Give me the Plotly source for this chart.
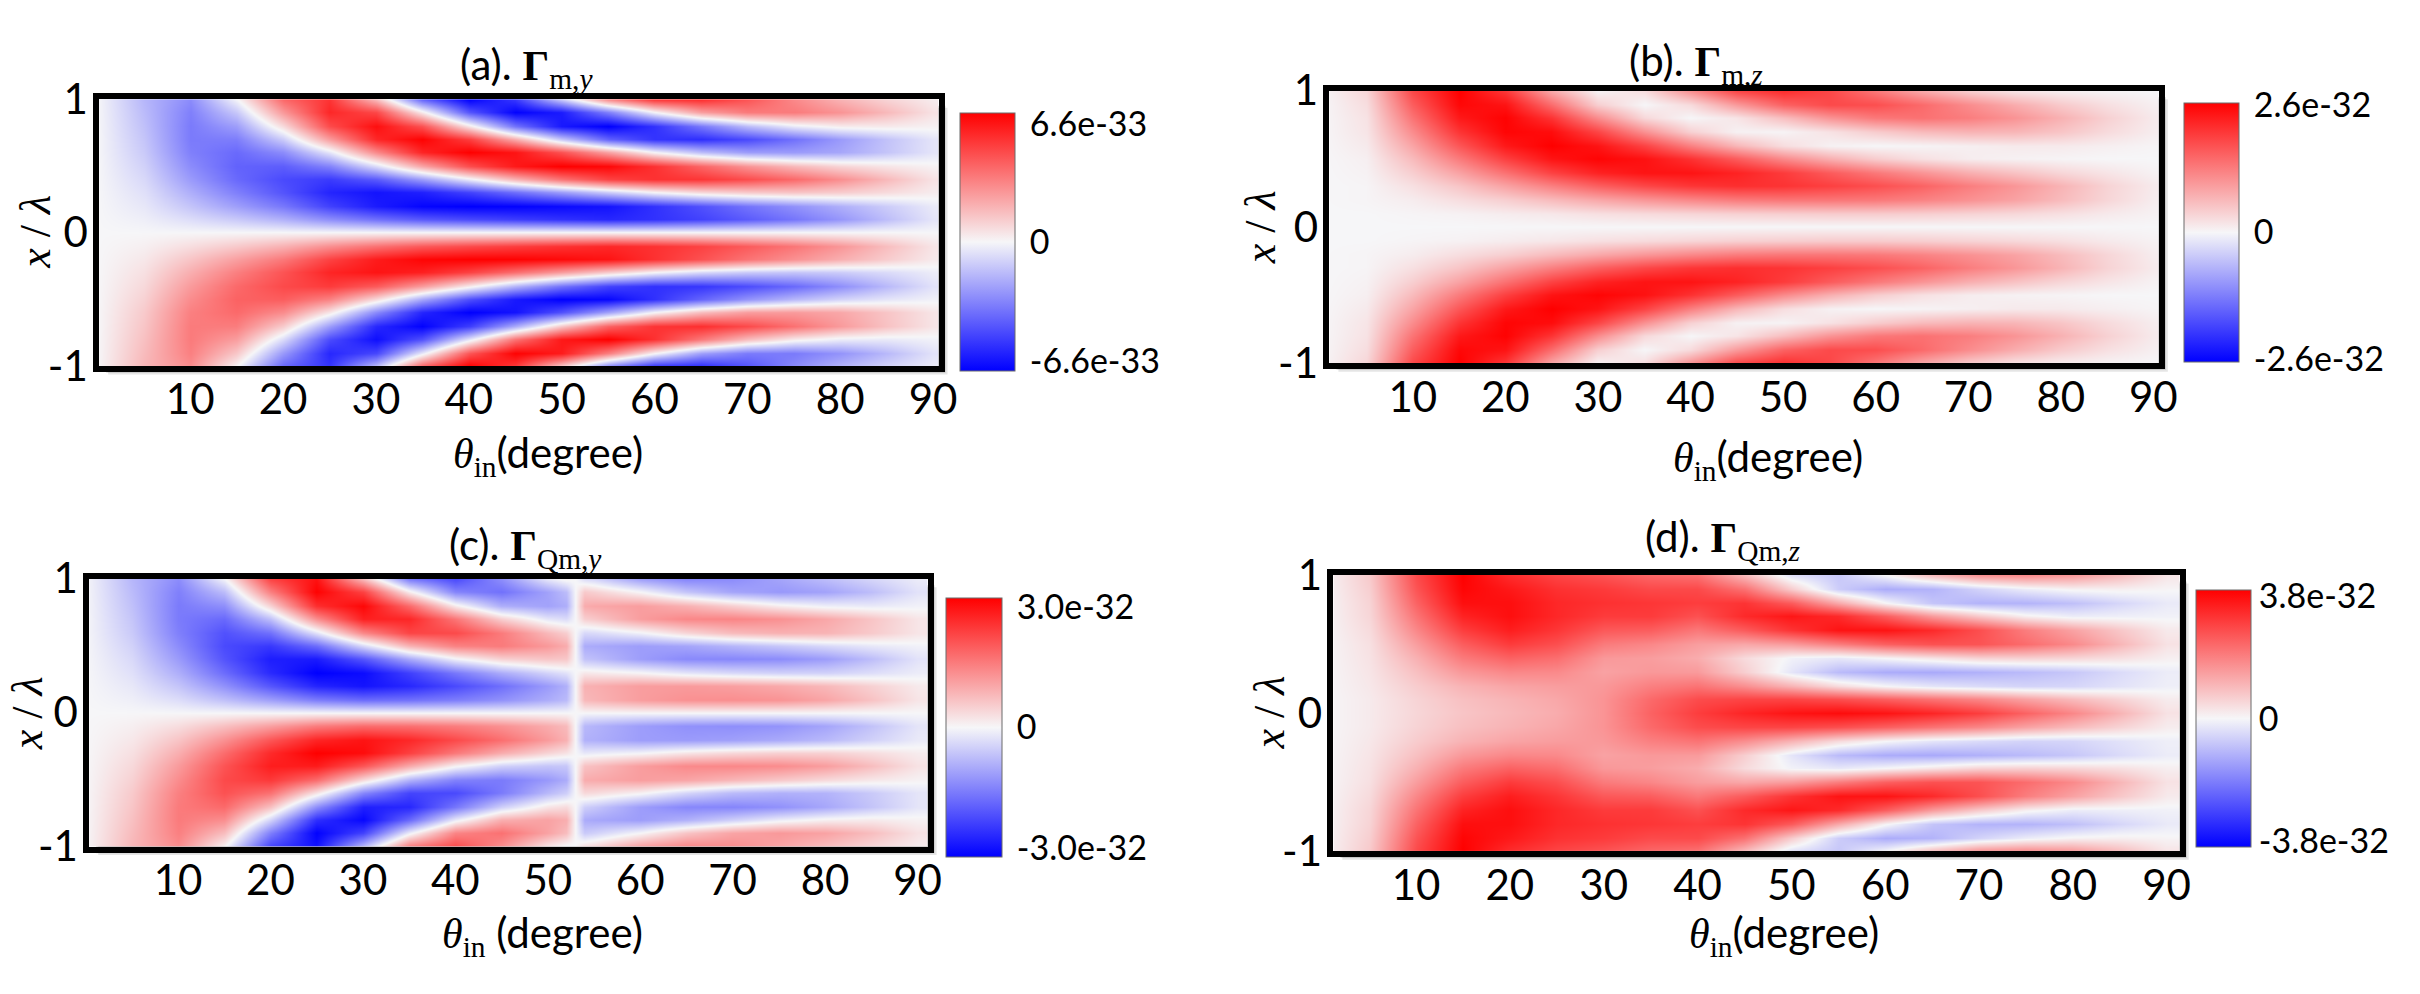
import numpy as np
import plotly.graph_objects as go

# ---------------------------
# Data
# (values are % of each colour-bar limit, rows go from x/lambda = -1 to 1)
# ---------------------------
X_LAMBDA = [-1.0, -0.9, -0.8, -0.7, -0.6, -0.5, -0.4, -0.3, -0.2, -0.1, 0.0,
            0.1, 0.2, 0.3, 0.4, 0.5, 0.6, 0.7, 0.8, 0.9, 1.0]
THETA = [0, 5, 10, 15, 20, 25, 30, 35, 40, 45, 50, 55, 60, 65, 70, 75, 80, 85, 90]
THETA_QMY = [0, 5, 10, 15, 20, 25, 30, 35, 40, 45, 50, 52, 53, 54, 55, 60, 65, 70, 75, 80, 85, 90]

ZMAX_MY = 6.6e-33
ZMAX_MZ = 2.6e-32
ZMAX_QMY = 3.0e-32
ZMAX_QMZ = 3.8e-32

CB_TEXT_MY = ["-6.6e-33", "0", "6.6e-33"]
CB_TEXT_MZ = ["-2.6e-32", "0", "2.6e-32"]
CB_TEXT_QMY = ["-3.0e-32", "0", "3.0e-32"]
CB_TEXT_QMZ = ["-3.8e-32", "0", "3.8e-32"]

X_TICKS = [10, 20, 30, 40, 50, 60, 70, 80, 90]
Y_TICKS = [-1, 0, 1]

# (a) Gamma_m,y
GAMMA_M_Y = [
    [0, 26, 43, 1, -58, -79, -23, 60, 100, 77, 17, -45, -79, -82, -66, -44, -27, -14, -4],
    [0, 24, 48, 19, -38, -84, -71, -5, 65, 99, 89, 48, 1, -35, -50, -50, -40, -25, -8],
    [0, 22, 50, 36, -11, -69, -94, -67, -7, 53, 90, 100, 80, 51, 24, 5, -4, -5, -2],
    [0, 20, 50, 49, 17, -36, -84, -99, -75, -30, 19, 60, 79, 81, 70, 54, 37, 21, 7],
    [0, 18, 48, 57, 43, 7, -44, -85, -100, -92, -67, -34, 0, 23, 36, 37, 32, 20, 7],
    [0, 15, 43, 60, 62, 47, 11, -32, -68, -90, -100, -97, -80, -59, -40, -25, -14, -7, -2],
    [0, 12, 37, 57, 70, 76, 63, 36, 4, -27, -53, -73, -80, -78, -69, -57, -42, -25, -8],
    [0, 9, 29, 48, 66, 85, 92, 87, 73, 55, 36, 17, 0, -12, -18, -20, -17, -11, -4],
    [0, 6, 20, 35, 51, 73, 89, 98, 100, 99, 96, 92, 80, 67, 53, 41, 29, 17, 5],
    [0, 3, 10, 18, 28, 42, 54, 64, 70, 75, 80, 84, 80, 73, 63, 52, 39, 23, 7],
    [0, 0, 0, 0, 0, 0, 0, 0, 0, 0, 0, 0, 0, 0, 0, 0, 0, 0, 0],
    [0, -3, -10, -18, -28, -42, -54, -64, -70, -75, -80, -84, -80, -73, -63, -52, -39, -23, -7],
    [0, -6, -20, -35, -51, -73, -89, -98, -100, -99, -96, -92, -80, -67, -53, -41, -29, -17, -5],
    [0, -9, -29, -48, -66, -85, -92, -87, -73, -55, -36, -17, 0, 12, 18, 20, 17, 11, 4],
    [0, -12, -37, -57, -70, -76, -63, -36, -4, 27, 53, 73, 80, 78, 69, 57, 42, 25, 8],
    [0, -15, -43, -60, -62, -47, -11, 32, 68, 90, 100, 97, 80, 59, 40, 25, 14, 7, 2],
    [0, -18, -48, -57, -43, -7, 44, 85, 100, 92, 67, 34, 0, -23, -36, -37, -32, -20, -7],
    [0, -20, -50, -49, -17, 36, 84, 99, 75, 30, -19, -60, -79, -81, -70, -54, -37, -21, -7],
    [0, -22, -50, -36, 11, 69, 94, 67, 7, -53, -90, -100, -80, -51, -24, -5, 4, 5, 2],
    [0, -24, -48, -19, 38, 84, 71, 5, -65, -99, -89, -48, -1, 35, 50, 50, 40, 25, 8],
    [0, -26, -43, -1, 58, 79, 23, -60, -100, -77, -17, 45, 79, 82, 66, 44, 27, 14, 4],
]

# (b) Gamma_m,z
GAMMA_M_Z = [
    [0, 13, 71, 100, 77, 31, 1, 10, 42, 72, 82, 71, 51, 31, 16, 7, 3, 1, 0],
    [0, 10, 62, 97, 92, 56, 16, 0, 11, 37, 60, 70, 68, 57, 43, 30, 18, 9, 3],
    [0, 8, 53, 90, 99, 79, 43, 12, 0, 7, 23, 40, 51, 54, 49, 40, 28, 15, 5],
    [0, 7, 43, 79, 98, 95, 72, 41, 15, 2, 1, 8, 17, 24, 27, 26, 20, 11, 4],
    [0, 5, 33, 65, 90, 100, 92, 73, 48, 26, 10, 2, 0, 1, 3, 5, 5, 3, 1],
    [0, 3, 24, 50, 74, 92, 98, 93, 80, 63, 44, 29, 17, 9, 4, 2, 1, 0, 0],
    [0, 2, 16, 34, 54, 73, 86, 92, 92, 86, 76, 63, 51, 40, 29, 21, 13, 7, 2],
    [0, 1, 9, 20, 34, 48, 61, 71, 78, 81, 79, 74, 68, 60, 49, 39, 27, 14, 5],
    [0, 1, 4, 10, 16, 24, 32, 39, 45, 50, 52, 52, 51, 47, 41, 34, 24, 13, 4],
    [0, 0, 1, 2, 4, 6, 9, 11, 13, 15, 16, 17, 17, 16, 14, 12, 9, 5, 2],
    [0, 0, 0, 0, 0, 0, 0, 0, 0, 0, 0, 0, 0, 0, 0, 0, 0, 0, 0],
    [0, 0, 1, 2, 4, 6, 9, 11, 13, 15, 16, 17, 17, 16, 14, 12, 9, 5, 2],
    [0, 1, 4, 10, 16, 24, 32, 39, 45, 50, 52, 52, 51, 47, 41, 34, 24, 13, 4],
    [0, 1, 9, 20, 34, 48, 61, 71, 78, 81, 79, 74, 68, 60, 49, 39, 27, 14, 5],
    [0, 2, 16, 34, 54, 73, 86, 92, 92, 86, 76, 63, 51, 40, 29, 21, 13, 7, 2],
    [0, 3, 24, 50, 74, 92, 98, 93, 80, 63, 44, 29, 17, 9, 4, 2, 1, 0, 0],
    [0, 5, 33, 65, 90, 100, 92, 73, 48, 26, 10, 2, 0, 1, 3, 5, 5, 3, 1],
    [0, 7, 43, 79, 98, 95, 72, 41, 15, 2, 1, 8, 17, 24, 27, 26, 20, 11, 4],
    [0, 8, 53, 90, 99, 79, 43, 12, 0, 7, 23, 40, 51, 54, 49, 40, 28, 15, 5],
    [0, 10, 62, 97, 92, 56, 16, 0, 11, 37, 60, 70, 68, 57, 43, 30, 18, 9, 3],
    [0, 13, 71, 100, 77, 31, 1, 10, 42, 72, 82, 71, 51, 31, 16, 7, 3, 1, 0],
]

# (c) Gamma_Qm,y  (sign flips across the white line near 53 degrees)
GAMMA_QM_Y = [
    [0, 26, 43, 1, -73, -93, -23, 51, 70, 42, 6, -3, 0, 11, 14, 36, 46, 43, 33, 23, 13, 4],
    [0, 24, 48, 23, -48, -99, -73, -4, 46, 54, 34, 23, 0, -18, -15, 0, 20, 33, 38, 34, 23, 8],
    [0, 22, 50, 42, -14, -81, -97, -57, -5, 29, 34, 29, 0, -30, -32, -36, -28, -16, -4, 3, 5, 2],
    [0, 20, 50, 57, 22, -42, -87, -84, -52, -16, 7, 11, 0, -16, -19, -36, -45, -46, -41, -32, -20, -7],
    [0, 18, 48, 67, 54, 8, -45, -72, -70, -50, -25, -16, 0, 12, 11, 2, -13, -24, -28, -27, -18, -7],
    [0, 15, 43, 70, 77, 56, 12, -27, -47, -50, -38, -30, 0, 30, 31, 36, 33, 26, 19, 12, 6, 2],
    [0, 12, 37, 66, 88, 89, 65, 31, 2, -15, -20, -19, 0, 21, 23, 36, 44, 45, 43, 36, 23, 8],
    [0, 9, 29, 56, 83, 100, 95, 74, 51, 30, 14, 8, 0, -6, -5, -1, 7, 12, 15, 15, 10, 4],
    [0, 6, 20, 41, 65, 85, 92, 84, 70, 55, 37, 28, 0, -28, -29, -36, -37, -35, -31, -25, -15, -5],
    [0, 3, 10, 22, 35, 49, 56, 54, 49, 41, 30, 24, 0, -25, -27, -36, -41, -42, -40, -33, -21, -7],
    [0, 0, 0, 0, 0, 0, 0, 0, 0, 0, 0, 0, 0, 0, 0, 0, 0, 0, 0, 0, 0, 0],
    [0, -3, -10, -22, -35, -49, -56, -54, -49, -41, -30, -24, 0, 25, 27, 36, 41, 42, 40, 33, 21, 7],
    [0, -6, -20, -41, -65, -85, -92, -84, -70, -55, -37, -28, 0, 28, 29, 36, 37, 35, 31, 25, 15, 5],
    [0, -9, -29, -56, -83, -100, -95, -74, -51, -30, -14, -8, 0, 6, 5, 1, -7, -12, -15, -15, -10, -4],
    [0, -12, -37, -66, -88, -89, -65, -31, -2, 15, 20, 19, 0, -21, -23, -36, -44, -45, -43, -36, -23, -8],
    [0, -15, -43, -70, -77, -56, -12, 27, 47, 50, 38, 30, 0, -30, -31, -36, -33, -26, -19, -12, -6, -2],
    [0, -18, -48, -67, -54, -8, 45, 72, 70, 50, 25, 16, 0, -12, -11, -2, 13, 24, 28, 27, 18, 7],
    [0, -20, -50, -57, -22, 42, 87, 84, 52, 16, -7, -11, 0, 16, 19, 36, 45, 46, 41, 32, 20, 7],
    [0, -22, -50, -42, 14, 81, 97, 57, 5, -29, -34, -29, 0, 30, 32, 36, 28, 16, 4, -3, -5, -2],
    [0, -24, -48, -23, 48, 99, 73, 4, -46, -54, -34, -23, 0, 18, 15, 0, -20, -33, -38, -34, -23, -8],
    [0, -26, -43, -1, 73, 93, 23, -51, -70, -42, -6, 3, 0, -11, -14, -36, -46, -43, -33, -23, -13, -4],
]

# (d) Gamma_Qm,z
GAMMA_QM_Z = [
    [0, 18, 70, 100, 82, 72, 66, 58, 54, 24, -9, -19, 0, 24, 41, 44, 38, 24, 7],
    [0, 16, 66, 98, 90, 80, 76, 70, 70, 54, 17, -17, -30, -27, -14, -4, 2, 3, 1],
    [0, 14, 60, 94, 94, 84, 80, 78, 75, 79, 63, 31, 1, -20, -27, -27, -22, -13, -5],
    [0, 13, 53, 86, 94, 84, 76, 76, 67, 83, 91, 83, 62, 37, 18, 3, -4, -3, -2],
    [0, 11, 45, 75, 88, 78, 64, 62, 51, 63, 79, 92, 92, 83, 68, 49, 34, 19, 5],
    [0, 9, 36, 62, 76, 68, 50, 45, 36, 32, 37, 49, 61, 67, 66, 56, 44, 26, 8],
    [0, 8, 28, 50, 60, 55, 38, 36, 30, 11, -2, -6, 0, 7, 14, 15, 13, 9, 3],
    [0, 7, 22, 38, 45, 44, 34, 38, 37, 16, -7, -24, -30, -31, -28, -24, -19, -11, -4],
    [0, 6, 17, 27, 33, 36, 38, 48, 53, 42, 27, 11, 0, -7, -11, -14, -13, -8, -3],
    [0, 5, 14, 22, 27, 32, 40, 57, 69, 72, 72, 68, 61, 53, 45, 34, 24, 14, 4],
    [0, 5, 13, 20, 25, 30, 40, 60, 75, 85, 92, 95, 92, 85, 75, 60, 45, 27, 8],
    [0, 5, 14, 22, 27, 32, 40, 57, 69, 72, 72, 68, 61, 53, 45, 34, 24, 14, 4],
    [0, 6, 17, 27, 33, 36, 38, 48, 53, 42, 27, 11, 0, -7, -11, -14, -13, -8, -3],
    [0, 7, 22, 38, 45, 44, 34, 38, 37, 16, -7, -24, -30, -31, -28, -24, -19, -11, -4],
    [0, 8, 28, 50, 60, 55, 38, 36, 30, 11, -2, -6, 0, 7, 14, 15, 13, 9, 3],
    [0, 9, 36, 62, 76, 68, 50, 45, 36, 32, 37, 49, 61, 67, 66, 56, 44, 26, 8],
    [0, 11, 45, 75, 88, 78, 64, 62, 51, 63, 79, 92, 92, 83, 68, 49, 34, 19, 5],
    [0, 13, 53, 86, 94, 84, 76, 76, 67, 83, 91, 83, 62, 37, 18, 3, -4, -3, -2],
    [0, 14, 60, 94, 94, 84, 80, 78, 75, 79, 63, 31, 1, -20, -27, -27, -22, -13, -5],
    [0, 16, 66, 98, 90, 80, 76, 70, 70, 54, 17, -17, -30, -27, -14, -4, 2, 3, 1],
    [0, 18, 70, 100, 82, 72, 66, 58, 54, 24, -9, -19, 0, 24, 41, 44, 38, 24, 7],
]


# ---------------------------
# Page geometry (pixels of the 2420 x 994 picture)
# ---------------------------
W, H = 2420, 994
TICK_FONT = "Lato, 'Open Sans', sans-serif"
MATH_FONT = "Liberation Serif"

BWR = [[0.0, "rgb(0,0,255)"], [0.5, "rgb(246,246,248)"], [1.0, "rgb(255,0,0)"]]


def fx(px):
    return px / W


def fy(py):
    return 1 - py / H


panels = [
    dict(name="a", theta=THETA, z=GAMMA_M_Y, zmax=ZMAX_MY, cbtext=CB_TEXT_MY,
         box=(100, 946, 77, 358), xrange=[0.2, 90.6], cb=(968, 92, 55, 258, 0.92, 8),
         title="(a). <span style='font-family:Liberation Serif'><b>Γ</b><sub>m,<i>y</i></sub></span>",
         title_xy=(531, 43), xt="(degree)", xt_xy=(552, 452), yt_xy=(35, 217)),
    dict(name="b", theta=THETA, z=GAMMA_M_Z, zmax=ZMAX_MZ, cbtext=CB_TEXT_MZ,
         box=(1340, 2176, 68, 355), xrange=[1.0, 90.6], cb=(2201, 81, 55, 259, 0.98, 8),
         title="(b). <span style='font-family:Liberation Serif'><b>Γ</b><sub>m,<i>z</i></sub></span>",
         title_xy=(1709, 39), xt="(degree)", xt_xy=(1782, 456), yt_xy=(1270, 212)),
    dict(name="c", theta=THETA_QMY, z=GAMMA_QM_Y, zmax=ZMAX_QMY, cbtext=CB_TEXT_QMY,
         box=(90, 935, 582, 864), xrange=[0.4, 91.1], cb=(953, 602, 56, 259, 0.93, 8),
         title="(c). <span style='font-family:Liberation Serif'><b>Γ</b><sub>Qm,<i>y</i></sub></span>",
         title_xy=(530, 549), xt=" (degree)", xt_xy=(547, 957), yt_xy=(28, 724)),
    dict(name="d", theta=THETA, z=GAMMA_QM_Z, zmax=ZMAX_QMZ, cbtext=CB_TEXT_QMZ,
         box=(1344, 2197, 578, 869), xrange=[1.2, 91.4], cb=(2213, 594, 55, 257, 0.95, 1),
         title="(d). <span style='font-family:Liberation Serif'><b>Γ</b><sub>Qm,<i>z</i></sub></span>",
         title_xy=(1737, 540), xt="(degree)", xt_xy=(1798, 957), yt_xy=(1280, 723)),
]

fig = go.Figure()
layout = {}
annotations = []
shapes = []

for i, p in enumerate(panels, start=1):
    xa = "x" if i == 1 else f"x{i}"
    ya = "y" if i == 1 else f"y{i}"
    left, right, top, bottom = p["box"]
    cbx, cby, cbw, cbh, frac, gap = p["cb"]
    zmax = p["zmax"]
    z = np.array(p["z"], dtype=float) / 100.0 * zmax

    fig.add_trace(go.Heatmap(
        x=p["theta"], y=X_LAMBDA, z=z,
        colorscale=BWR, zmin=-zmax, zmax=zmax, zsmooth="best",
        xaxis=xa, yaxis=ya,
        colorbar=dict(
            x=fx(cbx), xanchor="left", y=fy(cby), yanchor="top",
            len=cbh, lenmode="pixels", thickness=cbw, thicknessmode="pixels",
            xpad=0, ypad=0, outlinewidth=1, outlinecolor="#6b6b6b",
            tickvals=[-frac * zmax, 0, frac * zmax], ticktext=p["cbtext"],
            ticks="outside", ticklen=gap, tickcolor="rgba(0,0,0,0)",
            tickfont=dict(family=TICK_FONT, size=34, color="black"),
        ),
    ))

    axis_common = dict(showline=True, mirror=True, linewidth=6, linecolor="black",
                       showgrid=False, zeroline=False, ticks="",
                       tickfont=dict(family=TICK_FONT, size=42, color="black"))
    layout["xaxis" if i == 1 else f"xaxis{i}"] = dict(
        axis_common, domain=[fx(left), fx(right)], anchor=ya,
        range=p["xrange"], tickvals=X_TICKS, ticklabelstandoff=-8)
    layout["yaxis" if i == 1 else f"yaxis{i}"] = dict(
        axis_common, domain=[fy(bottom), fy(top)], anchor=xa,
        range=[-1, 1], tickvals=Y_TICKS, ticktext=["-1", "0", "1"],
        ticklabelstandoff=-3)

    # soft drop shadow to the lower right of the frame
    for off, alpha in ((9, 0.10), (7, 0.14)):
        shapes.append(dict(type="rect", xref="paper", yref="paper", layer="below",
                           x0=fx(left + off), x1=fx(right + off),
                           y0=fy(bottom + off), y1=fy(top + off),
                           line=dict(width=0), fillcolor=f"rgba(0,0,0,{alpha})"))

    tx, ty = p["title_xy"]
    annotations.append(dict(text=p["title"], x=fx(tx), y=fy(ty), xref="paper", yref="paper",
                            showarrow=False, xanchor="center", yanchor="middle",
                            font=dict(family=TICK_FONT, size=42, color="black")))
    ax_, ay_ = p["xt_xy"]
    annotations.append(dict(
        text=f"<span style='font-family:{MATH_FONT}'><i>θ</i><sub>in</sub></span>{p['xt']}",
        x=fx(ax_), y=fy(ay_), xref="paper", yref="paper", showarrow=False,
        xanchor="center", yanchor="middle",
        font=dict(family=TICK_FONT, size=42, color="black")))
    yx, yy = p["yt_xy"]
    annotations.append(dict(text="<i>x</i> / <i>λ</i>", x=fx(yx), y=fy(yy),
                            xref="paper", yref="paper", showarrow=False, textangle=-90,
                            xanchor="center", yanchor="middle",
                            font=dict(family=MATH_FONT, size=44, color="black")))

fig.update_layout(
    **layout,
    width=W, height=H,
    margin=dict(l=0, r=0, t=0, b=0),
    paper_bgcolor="white", plot_bgcolor="white",
    showlegend=False,
    annotations=annotations,
    shapes=shapes,
)

fig.write_html("out.html", config={"displayModeBar": False},
               post_script="document.body.style.margin='0';")
